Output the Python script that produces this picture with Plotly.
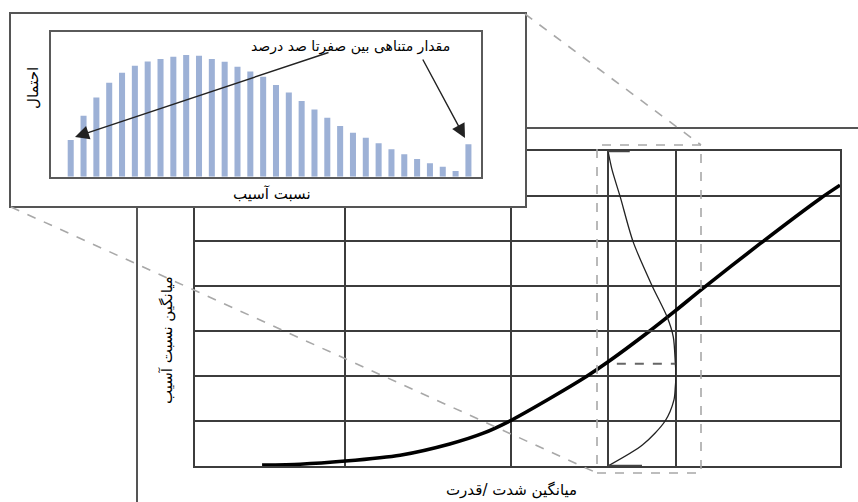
import plotly.graph_objects as go

W, H = 858, 502
FONT = "DejaVu Sans"

# ---------------- data ----------------
# main vulnerability curve: mean intensity vs mean damage ratio (%)
intensity = [1.04, 1.63, 2.33, 3.18, 3.95, 4.47, 4.88, 5.50, 6.08, 6.40, 7.05, 7.44, 7.86, 8.76, 9.69, 10.0]
mean_damage = [0.2, 0.4, 1.1, 2.4, 4.9, 7.3, 10.0, 15.0, 20.0, 23.1, 30.0, 34.4, 39.3, 49.4, 59.4, 62.4]
intensity_grid = [2.33, 4.9, 6.4, 7.45]

# damage-ratio distribution at one intensity level (drawn sideways)
dist_damage = [70, 65.8, 59.8, 49.8, 40, 33.1, 28.7, 22.9, 20, 17.6, 14.7, 10, 4.7, 0]
dist_density = [0, 0.06, 0.18, 0.37, 0.65, 0.87, 0.96, 0.99, 1.0, 0.99, 0.97, 0.84, 0.51, 0]
end_damage = [70, 0]
end_density = [0.32, 0.50]
mean_damage_at_level = 22.7
mean_line_density = [0.13, 0.99]

# inset histogram: probability of each damage-ratio bin
bin_index = list(range(32))
bin_prob = [1.10, 1.83, 2.38, 2.82, 3.12, 3.33, 3.46, 3.53, 3.60, 3.65, 3.63, 3.53,
            3.45, 3.30, 3.16, 3.00, 2.75, 2.53, 2.27, 2.02, 1.77, 1.52, 1.32, 1.17,
            1.00, 0.82, 0.67, 0.53, 0.40, 0.30, 0.17, 0.97]

# texts
inset_note = "مقدار متناهی بین صفرتا صد درصد"
inset_ylab = "احتمال"
inset_xlab = "نسبت آسیب"
main_xlab = "میانگین شدت /قدرت"
main_ylab = "میانگین نسبت آسیب"

# ---------------- layout helpers (pixel -> paper) ----------------
def px(x):
    return x / W

def py(y):
    return 1 - y / H

GRID = "#3c3c3c"

fig = go.Figure()

# main curve (subplot xy)
fig.add_trace(go.Scatter(x=intensity, y=mean_damage, mode="lines",
                         line=dict(color="black", width=3.6, shape="spline", smoothing=0.7),
                         xaxis="x", yaxis="y", hoverinfo="skip"))
# inset bars (subplot x3y3, drawn above the white panel x2y2)
fig.add_trace(go.Bar(x=bin_index, y=bin_prob, marker=dict(color="#9DB1D6", line=dict(width=0)),
                     xaxis="x3", yaxis="y3", hoverinfo="skip"))
# distribution (sideways, subplot x4y)
fig.add_trace(go.Scatter(x=dist_density, y=dist_damage, mode="lines",
                         line=dict(color="#222", width=1.3, shape="spline", smoothing=0.8),
                         xaxis="x4", yaxis="y", hoverinfo="skip"))
for d, v in zip(end_damage, end_density):
    fig.add_trace(go.Scatter(x=[0, v], y=[d, d], mode="lines",
                             line=dict(color="#444", width=2.5),
                             xaxis="x4", yaxis="y", hoverinfo="skip"))
fig.add_trace(go.Scatter(x=mean_line_density, y=[mean_damage_at_level] * 2, mode="lines",
                         line=dict(color="#666", width=2, dash="dash"),
                         xaxis="x4", yaxis="y", hoverinfo="skip"))

# axis geometry
main_x_dom = [px(195), px(840)]
main_y_dom = [py(466), py(151)]
panel_x_dom = [px(10.5), px(525)]
panel_y_dom = [py(206), py(14)]
in_x_dom = [px(50.7), px(481)]
in_y_dom = [py(176.7), py(32.3)]
in_x_rng = [-1.56, 31.98]
in_y_rng = [0, 4.333]

def inset_x(p):
    f = (p / W - in_x_dom[0]) / (in_x_dom[1] - in_x_dom[0])
    return in_x_rng[0] + f * (in_x_rng[1] - in_x_rng[0])

def inset_y(p):
    f = ((1 - p / H) - in_y_dom[0]) / (in_y_dom[1] - in_y_dom[0])
    return in_y_rng[0] + f * (in_y_rng[1] - in_y_rng[0])

hidden = dict(showticklabels=False, ticks="", showgrid=False, zeroline=False)

fig.update_layout(
    width=W, height=H, margin=dict(l=0, r=0, t=0, b=0, pad=0),
    paper_bgcolor="white", plot_bgcolor="rgba(0,0,0,0)", showlegend=False,
    bargap=0.53,
    xaxis=dict(domain=main_x_dom, range=[0, 10], tickvals=intensity_grid, showticklabels=False,
               ticks="", showgrid=True, gridcolor=GRID, gridwidth=1.5, zeroline=False,
               showline=True, mirror=True, linecolor=GRID, linewidth=1.5, anchor="y"),
    yaxis=dict(domain=main_y_dom, range=[0, 70], dtick=10, showticklabels=False, ticks="",
               showgrid=True, gridcolor=GRID, gridwidth=1.5, zeroline=False,
               showline=True, mirror=True, linecolor=GRID, linewidth=1.5, anchor="x"),
    # white panel holding the inset
    xaxis2=dict(domain=panel_x_dom, range=[0, 1], anchor="y2", showline=True, mirror=True,
                linecolor="#555", linewidth=1.8, **hidden),
    yaxis2=dict(domain=panel_y_dom, range=[0, 1], anchor="x2", showline=True, mirror=True,
                linecolor="#555", linewidth=1.8, **hidden),
    # inset histogram axes
    xaxis3=dict(domain=in_x_dom, range=in_x_rng, anchor="y3", showline=True, mirror=True,
                linecolor="#5a5a5a", linewidth=1.5, **hidden),
    yaxis3=dict(domain=in_y_dom, range=in_y_rng, anchor="x3", showline=True, mirror=True,
                linecolor="#5a5a5a", linewidth=1.5, **hidden),
    # density axis for the sideways distribution
    xaxis4=dict(domain=[px(608), px(676)], range=[0, 1], anchor="y", visible=False),
)

shapes = []
# white fill of the inset panel (lives in the panel subplot layer)
shapes.append(dict(type="rect", xref="x2", yref="y2", layer="below",
                   x0=0, x1=1, y0=0, y1=1, fillcolor="white", line=dict(width=0)))
# outer frame pieces
shapes.append(dict(type="line", xref="paper", yref="paper", x0=px(137), x1=px(137),
                   y0=py(206), y1=py(502), line=dict(color="#555", width=2)))
shapes.append(dict(type="line", xref="paper", yref="paper", x0=px(526), x1=px(858),
                   y0=py(128), y1=py(128), line=dict(color="#555", width=2)))
# dashed zoom box and connectors
dash_col = "#a8a8a8"
shapes.append(dict(type="rect", xref="paper", yref="paper", layer="above",
                   x0=px(597), x1=px(701), y0=py(473), y1=py(145),
                   line=dict(color=dash_col, width=1.6, dash="dash")))
shapes.append(dict(type="line", xref="paper", yref="paper", layer="above",
                   x0=px(11), y0=py(207), x1=px(597), y1=py(473),
                   line=dict(color=dash_col, width=1.6, dash="dash")))
shapes.append(dict(type="line", xref="paper", yref="paper", layer="above",
                   x0=px(525), y0=py(14), x1=px(701), y1=py(145),
                   line=dict(color=dash_col, width=1.6, dash="dash")))
fig.update_layout(shapes=shapes)

def label(text, x, y, size, angle=0):
    return dict(text=text, x=px(x), y=py(y), xref="paper", yref="paper",
                xanchor="center", yanchor="middle", showarrow=False, textangle=angle,
                font=dict(family=FONT, size=size, color="black"))

ann = [
    label(inset_note, 350, 46.5, 14),
    label(inset_ylab, 33, 88, 15, -90),
    label(inset_xlab, 272, 193.5, 15),
    label(main_xlab, 511, 490, 15),
    label(main_ylab, 167, 340, 15, -90),
]
# arrows from the note to the end bins
ann.append(dict(text="", x=inset_x(75), y=inset_y(137), xref="x3", yref="y3",
                ax=inset_x(330), ay=inset_y(52), axref="x3", ayref="y3",
                showarrow=True, arrowhead=2, arrowsize=2.0, arrowwidth=1.4, arrowcolor="#222"))
ann.append(dict(text="", x=inset_x(465), y=inset_y(138), xref="x3", yref="y3",
                ax=inset_x(422), ay=inset_y(58), axref="x3", ayref="y3",
                showarrow=True, arrowhead=2, arrowsize=2.0, arrowwidth=1.4, arrowcolor="#222"))
fig.update_layout(annotations=ann)

fig.write_html("out.html", config={"displayModeBar": False},
               post_script="document.body.style.margin='0';document.body.style.padding='0';")
